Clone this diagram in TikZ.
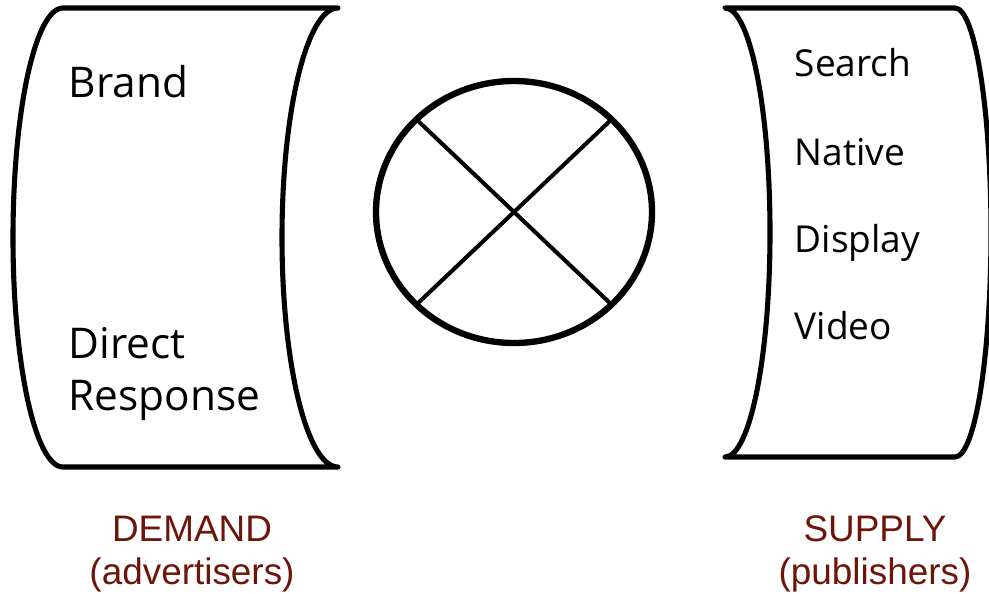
\documentclass[tikz,border=0pt]{standalone}
\usepackage{fontspec}
\setmainfont{Open Sans}
\newfontfamily\sidefont{Liberation Sans}
\usepackage{tikz}
\usetikzlibrary{positioning}
\definecolor{sidered}{RGB}{108,22,10}

\begin{document}
\begin{tikzpicture}[x=0.1mm,y=-0.1mm,
          line cap=round,line join=round,
          panel/.style={draw=black,line width=1.45pt},
          ring/.style={draw=black,line width=1.8pt},
          cross/.style={draw=black,line width=1.15pt},
          lefttxt/.style={anchor=base west,inner sep=0pt,font=\fontsize{12.05}{14.8}\selectfont},
          righttxt/.style={anchor=base west,inner sep=0pt,font=\fontsize{10.55}{13}\selectfont},
          sidetxt/.style={align=center,inner sep=0pt,text=sidered,
                          font=\sidefont\fontsize{10.5}{12.1}\selectfont}]
        \useasboundingbox (0,0) rectangle (989,594);

        % demand side
        \draw[panel] (338,8) -- (63,8)
          arc[start angle=270,end angle=90,x radius=50,y radius=229.5]
          -- (338,467)
          arc[start angle=90,end angle=270,x radius=56,y radius=229.5] -- cycle;
        \node[lefttxt] (brand) at (68,97) {Brand};
        \node[lefttxt] (direct) at (68,358) {Direct};
        \node[lefttxt] (response) at (68,410) {Response};

        % supply side
        \draw[panel] (725,8) -- (955,8)
          arc[start angle=270,end angle=450,x radius=36,y radius=224.5]
          -- (725,457)
          arc[start angle=90,end angle=-90,x radius=45,y radius=224.5] -- cycle;
        \foreach \nm/\txt/\yy in {search/Search/77,native/Native/165,
                                  display/Display/252,video/Video/339}
          \node[righttxt] (\nm) at (794,\yy) {\txt};

        % exchange in the middle
        \coordinate (mix) at (514,212);
        \draw[ring] (mix) ellipse[x radius=138,y radius=131];
        \foreach \a in {45,135}
          \draw[cross] (mix) ++(\a:138 and 131) coordinate (p\a)
                       (mix) ++(\a+180:138 and 131) coordinate (q\a)
                       (p\a) -- (q\a);

        \node[sidetxt] (demand) at (192,554) {DEMAND\\(advertisers)};
        \node[sidetxt] (supply) at (875,554) {SUPPLY\\(publishers)};
      \end{tikzpicture}
\end{document}
